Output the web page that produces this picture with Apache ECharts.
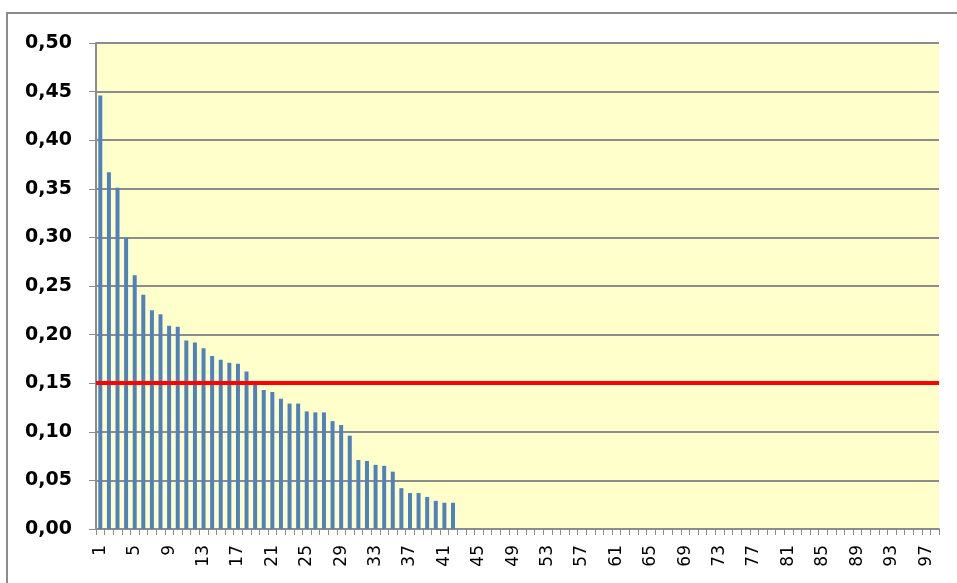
<!DOCTYPE html>
<html>
<head>
<meta charset="utf-8">
<script src="https://cdn.jsdelivr.net/npm/echarts@6/dist/echarts.min.js"></script>
<style>html,body{margin:0;padding:0;background:#fff}#c{width:957px;height:583px}</style>
</head>
<body>
<div id="c"></div>
<script>
const categories = [1,2,3,4,5,6,7,8,9,10,11,12,13,14,15,16,17,18,19,20,21,22,23,24,25,26,27,28,29,30,31,32,33,34,35,36,37,38,39,40,41,42,43,44,45,46,47,48,49,50,51,52,53,54,55,56,57,58,59,60,61,62,63,64,65,66,67,68,69,70,71,72,73,74,75,76,77,78,79,80,81,82,83,84,85,86,87,88,89,90,91,92,93,94,95,96,97,98];
const values = [0.446,0.367,0.351,0.300,0.261,0.241,0.225,0.221,0.209,0.208,0.194,0.192,0.186,0.178,0.174,0.171,0.170,0.162,0.150,0.143,0.141,0.134,0.129,0.129,0.121,0.120,0.120,0.111,0.107,0.096,0.071,0.070,0.066,0.065,0.059,0.042,0.037,0.037,0.033,0.029,0.027,0.027];
const threshold = 0.15;
const yTicks = {min: 0, max: 0.5, interval: 0.05};

const chart = echarts.init(document.getElementById('c'), null, {renderer: 'canvas'});
chart.setOption({
  animation: false,
  backgroundColor: '#ffffff',
  graphic: [{
    type: 'rect', shape: {x: 7, y: 13, width: 1100, height: 1000},
    style: {fill: 'none', stroke: '#8c8c8c', lineWidth: 2}, z: -10
  }],
  grid: {left: 96, right: 18, top: 43, bottom: 54, show: true, backgroundColor: '#FFFFCC', borderWidth: 0},
  xAxis: {
    type: 'category',
    data: categories.map(String),
    boundaryGap: true,
    axisLine: {show: true, lineStyle: {color: '#8c8c8c', width: 2}},
    axisTick: {show: true, interval: 0, length: 6, lineStyle: {color: '#8c8c8c', width: 1}},
    axisLabel: {interval: 3, rotate: 90, fontSize: 17, color: '#000', fontFamily: 'DejaVu Sans', margin: 16},
    splitLine: {show: false}
  },
  yAxis: {
    type: 'value',
    min: yTicks.min, max: yTicks.max, interval: yTicks.interval,
    axisLine: {show: true, lineStyle: {color: '#8c8c8c', width: 2}},
    axisTick: {show: true, length: 7, lineStyle: {color: '#8c8c8c', width: 1}},
    axisLabel: {
      formatter: v => v.toFixed(2).replace('.', ','),
      fontSize: 19, fontWeight: 'bold', color: '#000', fontFamily: 'DejaVu Sans', margin: 24
    },
    splitLine: {show: true, lineStyle: {color: '#8c8c8c', width: 2}}
  },
  series: [{
    type: 'bar',
    data: values,
    barWidth: 4,
    itemStyle: {color: '#4F81BD'},
    markLine: {
      silent: true,
      symbol: 'none',
      label: {show: false},
      lineStyle: {color: '#FF0000', width: 4, type: 'solid'},
      data: [{yAxis: threshold}]
    }
  }]
});
</script>
</body>
</html>
